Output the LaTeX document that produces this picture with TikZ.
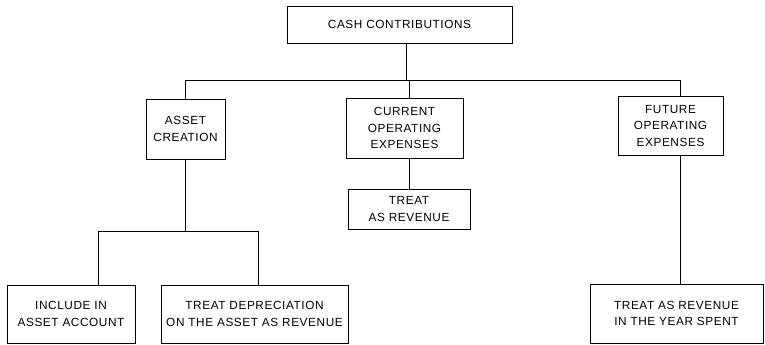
\documentclass[tikz,border=0pt]{standalone}
\usepackage{fontspec}
\setmainfont[LetterSpace=5]{Liberation Sans}
\begin{document}
\begin{tikzpicture}[x=1pt,y=-1pt,
  box/.style={draw,line width=0.9pt,inner sep=0pt,align=center,
    font=\fontsize{11.8}{16.5}\selectfont},
  link/.style={line width=0.9pt}]
\useasboundingbox (0,0) rectangle (765,345);
\node[box,minimum width=225pt,minimum height=37pt] (top) at (399.5,24.5) {CASH CONTRIBUTIONS};
\node[box,minimum width=79pt,minimum height=60pt] (asset) at (185.5,129) {ASSET\\CREATION};
\node[box,minimum width=117pt,minimum height=60pt] (current) at (404.5,128) {CURRENT\\OPERATING\\EXPENSES};
\node[box,minimum width=105pt,minimum height=59pt] (future) at (670.5,125.5) {FUTURE\\OPERATING\\EXPENSES};
\node[box,minimum width=122pt,minimum height=40pt] (revenue) at (409,209) {TREAT\\AS REVENUE};
\node[box,minimum width=128pt,minimum height=58pt] (include) at (71,314) {INCLUDE IN\\ASSET ACCOUNT};
\node[box,minimum width=187pt,minimum height=58pt] (dep) at (254.5,314) {TREAT DEPRECIATION\\ON THE ASSET AS REVENUE};
\node[box,minimum width=173pt,minimum height=59pt] (spent) at (676.5,313.5) {TREAT AS REVENUE\\IN THE YEAR SPENT};
\coordinate (bus) at (0,80);
\coordinate (bus2) at (0,231);
\draw[link] ([xshift=7pt]top.south) -- ([xshift=7pt]top.south |- bus);
\draw[link] (asset.north) |- ([xshift=9.5pt]future.north |- bus) -- ([xshift=9.5pt]future.north);
\draw[link] ([xshift=4.5pt]current.north) -- ([xshift=4.5pt]current.north |- bus);
\draw[link] ([xshift=4.5pt]current.south) -- ([xshift=4.5pt]current.south |- revenue.north);
\draw[link] (asset.south) -- (asset.south |- bus2);
\draw[link] ([xshift=27pt]include.north) |- ([xshift=3.5pt]dep.north |- bus2) -- ([xshift=3.5pt]dep.north);
\draw[link] ([xshift=9.5pt]future.south) -- ([xshift=9.5pt]future.south |- spent.north);
\end{tikzpicture}
\end{document}
